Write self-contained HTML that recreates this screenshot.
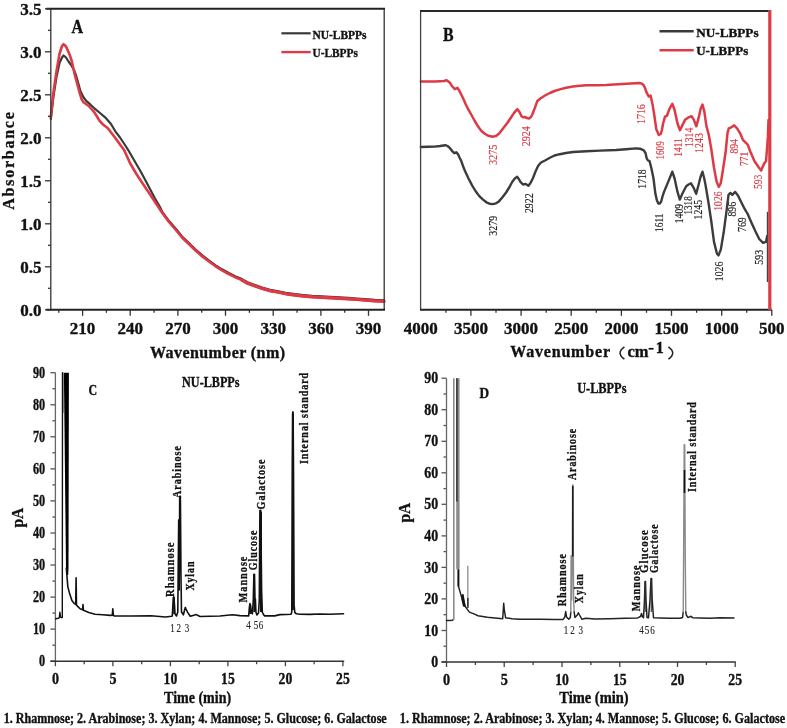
<!DOCTYPE html>
<html><head><meta charset="utf-8"><style>
html,body{margin:0;padding:0;background:#fff;}
body{width:787px;height:728px;overflow:hidden;}
svg{display:block;font-family:"Liberation Serif", serif;will-change:transform;}
</style></head><body>
<svg width="787" height="728" viewBox="0 0 787 728">
<rect width="787" height="728" fill="#fff"/>
<polyline points="162.7,212.6 169.0,221.1 175.9,229.1 182.0,236.6 189.1,243.4 195.5,249.6 202.3,255.5 209.0,260.6 215.5,265.4 222.0,269.4 228.7,273.1 235.0,276.3 241.9,279.2 248.0,282.6 255.0,285.1 262.0,287.6 270.0,289.9 277.0,291.1 285.6,292.9 295.0,294.3 303.4,295.2 312.0,296.0 321.2,296.5 330.0,297.0 339.0,297.4 348.0,298.0 356.8,298.6 365.0,299.3 374.6,300.0 384.0,300.4" fill="none" stroke="#4a2a2e" stroke-width="2.4" stroke-linejoin="round" stroke-linecap="round"/>
<polyline points="50.8,119.0 53.5,96.0 56.5,77.0 59.5,63.0 62.0,57.5 63.6,55.5 66.0,57.5 68.5,61.5 71.4,65.4 74.0,70.0 76.3,76.2 78.5,84.0 80.4,91.0 83.0,96.5 86.2,100.9 90.0,104.2 94.4,108.3 100.0,113.0 106.0,118.2 111.0,124.0 115.9,132.2 120.0,137.5 124.0,143.5 128.2,150.0 134.0,160.0 140.8,171.8 145.0,179.5 149.6,188.2 155.0,198.5 160.0,207.0 162.7,213.0" fill="none" stroke="#3a3a3a" stroke-width="2.2" stroke-linejoin="round" stroke-linecap="round"/>
<polyline points="50.8,117.4 53.5,92.0 56.5,71.2 59.5,54.0 62.0,46.0 63.6,44.2 66.0,46.5 69.7,54.7 72.0,62.0 74.7,74.5 77.0,83.0 79.6,92.6 81.5,99.0 83.7,102.5 86.0,104.0 88.7,105.8 91.5,109.0 94.4,112.4 97.0,116.5 99.4,120.7 103.0,124.5 107.6,128.0 111.5,133.0 115.9,138.8 120.0,144.5 124.1,150.0 130.0,163.0 136.4,174.0 143.0,184.0 149.6,193.7 156.0,203.5 162.7,213.5 169.0,222.0 175.9,230.0 182.0,237.5 189.1,244.3 195.5,250.5 202.3,256.4 209.0,261.5 215.5,266.3 222.0,270.3 228.7,274.0 235.0,277.2 241.9,280.1 248.0,283.5 255.0,286.0 262.0,288.5 270.0,290.8 277.0,292.0 285.6,293.8 295.0,295.2 303.4,296.1 312.0,296.9 321.2,297.4 330.0,297.9 339.0,298.3 348.0,298.9 356.8,299.5 365.0,300.2 374.6,300.9 384.0,301.3" fill="none" stroke="#dc3a45" stroke-width="2.6" stroke-linejoin="round" stroke-linecap="round"/>
<polyline points="241.9,280.1 248.0,283.5 255.0,286.0 262.0,288.5 270.0,290.8 277.0,292.0 285.6,293.8 295.0,295.2 303.4,296.1 312.0,296.9 321.2,297.4 330.0,297.9 339.0,298.3 348.0,298.9 356.8,299.5 365.0,300.2 374.6,300.9 384.0,301.3" fill="none" stroke="#dc3a45" stroke-width="3.2" stroke-linejoin="round" stroke-linecap="round"/>
<line x1="50.8" y1="8.8" x2="50.8" y2="310.3" stroke="#333" stroke-width="1.3"/>
<line x1="46.2" y1="8.8" x2="385.0" y2="8.8" stroke="#222" stroke-width="2.0"/>
<line x1="384.2" y1="8.8" x2="384.2" y2="309.8" stroke="#333" stroke-width="1.3"/>
<line x1="46.2" y1="309.8" x2="385.0" y2="309.8" stroke="#222" stroke-width="2.0"/>
<line x1="45.0" y1="309.8" x2="50.8" y2="309.8" stroke="#333" stroke-width="1.3"/>
<text x="41.6" y="315.6" font-size="17" font-weight="bold" text-anchor="end" fill="#111" stroke="#111" stroke-width="0.35">0.0</text>
<line x1="48.0" y1="288.3" x2="50.8" y2="288.3" stroke="#333" stroke-width="1.3"/>
<line x1="45.0" y1="266.8" x2="50.8" y2="266.8" stroke="#333" stroke-width="1.3"/>
<text x="41.6" y="272.6" font-size="17" font-weight="bold" text-anchor="end" fill="#111" stroke="#111" stroke-width="0.35">0.5</text>
<line x1="48.0" y1="245.3" x2="50.8" y2="245.3" stroke="#333" stroke-width="1.3"/>
<line x1="45.0" y1="223.8" x2="50.8" y2="223.8" stroke="#333" stroke-width="1.3"/>
<text x="41.6" y="229.6" font-size="17" font-weight="bold" text-anchor="end" fill="#111" stroke="#111" stroke-width="0.35">1.0</text>
<line x1="48.0" y1="202.3" x2="50.8" y2="202.3" stroke="#333" stroke-width="1.3"/>
<line x1="45.0" y1="180.8" x2="50.8" y2="180.8" stroke="#333" stroke-width="1.3"/>
<text x="41.6" y="186.6" font-size="17" font-weight="bold" text-anchor="end" fill="#111" stroke="#111" stroke-width="0.35">1.5</text>
<line x1="48.0" y1="159.3" x2="50.8" y2="159.3" stroke="#333" stroke-width="1.3"/>
<line x1="45.0" y1="137.8" x2="50.8" y2="137.8" stroke="#333" stroke-width="1.3"/>
<text x="41.6" y="143.6" font-size="17" font-weight="bold" text-anchor="end" fill="#111" stroke="#111" stroke-width="0.35">2.0</text>
<line x1="48.0" y1="116.3" x2="50.8" y2="116.3" stroke="#333" stroke-width="1.3"/>
<line x1="45.0" y1="94.8" x2="50.8" y2="94.8" stroke="#333" stroke-width="1.3"/>
<text x="41.6" y="100.6" font-size="17" font-weight="bold" text-anchor="end" fill="#111" stroke="#111" stroke-width="0.35">2.5</text>
<line x1="48.0" y1="73.3" x2="50.8" y2="73.3" stroke="#333" stroke-width="1.3"/>
<line x1="45.0" y1="51.8" x2="50.8" y2="51.8" stroke="#333" stroke-width="1.3"/>
<text x="41.6" y="57.6" font-size="17" font-weight="bold" text-anchor="end" fill="#111" stroke="#111" stroke-width="0.35">3.0</text>
<line x1="48.0" y1="30.3" x2="50.8" y2="30.3" stroke="#333" stroke-width="1.3"/>
<line x1="45.0" y1="8.8" x2="50.8" y2="8.8" stroke="#333" stroke-width="1.3"/>
<text x="41.6" y="14.6" font-size="17" font-weight="bold" text-anchor="end" fill="#111" stroke="#111" stroke-width="0.35">3.5</text>
<line x1="58.8" y1="309.8" x2="58.8" y2="312.8" stroke="#333" stroke-width="1.3"/>
<line x1="82.6" y1="309.8" x2="82.6" y2="315.8" stroke="#333" stroke-width="1.3"/>
<text x="82.6" y="334.2" font-size="17" font-weight="bold" text-anchor="middle" fill="#111" stroke="#111" stroke-width="0.35">210</text>
<line x1="106.4" y1="309.8" x2="106.4" y2="312.8" stroke="#333" stroke-width="1.3"/>
<line x1="130.2" y1="309.8" x2="130.2" y2="315.8" stroke="#333" stroke-width="1.3"/>
<text x="130.2" y="334.2" font-size="17" font-weight="bold" text-anchor="middle" fill="#111" stroke="#111" stroke-width="0.35">240</text>
<line x1="154.1" y1="309.8" x2="154.1" y2="312.8" stroke="#333" stroke-width="1.3"/>
<line x1="177.9" y1="309.8" x2="177.9" y2="315.8" stroke="#333" stroke-width="1.3"/>
<text x="177.9" y="334.2" font-size="17" font-weight="bold" text-anchor="middle" fill="#111" stroke="#111" stroke-width="0.35">270</text>
<line x1="201.7" y1="309.8" x2="201.7" y2="312.8" stroke="#333" stroke-width="1.3"/>
<line x1="225.5" y1="309.8" x2="225.5" y2="315.8" stroke="#333" stroke-width="1.3"/>
<text x="225.5" y="334.2" font-size="17" font-weight="bold" text-anchor="middle" fill="#111" stroke="#111" stroke-width="0.35">300</text>
<line x1="249.4" y1="309.8" x2="249.4" y2="312.8" stroke="#333" stroke-width="1.3"/>
<line x1="273.2" y1="309.8" x2="273.2" y2="315.8" stroke="#333" stroke-width="1.3"/>
<text x="273.2" y="334.2" font-size="17" font-weight="bold" text-anchor="middle" fill="#111" stroke="#111" stroke-width="0.35">330</text>
<line x1="297.0" y1="309.8" x2="297.0" y2="312.8" stroke="#333" stroke-width="1.3"/>
<line x1="320.9" y1="309.8" x2="320.9" y2="315.8" stroke="#333" stroke-width="1.3"/>
<text x="320.9" y="334.2" font-size="17" font-weight="bold" text-anchor="middle" fill="#111" stroke="#111" stroke-width="0.35">360</text>
<line x1="344.7" y1="309.8" x2="344.7" y2="312.8" stroke="#333" stroke-width="1.3"/>
<line x1="368.5" y1="309.8" x2="368.5" y2="315.8" stroke="#333" stroke-width="1.3"/>
<text x="368.5" y="334.2" font-size="17" font-weight="bold" text-anchor="middle" fill="#111" stroke="#111" stroke-width="0.35">390</text>
<text x="77.4" y="32.7" font-size="19" font-weight="bold" text-anchor="middle" fill="#111" stroke="#111" stroke-width="0.35" textLength="11.6" lengthAdjust="spacingAndGlyphs">A</text>
<line x1="281.4" y1="33.3" x2="310.7" y2="33.3" stroke="#3a3a3a" stroke-width="2.2"/>
<line x1="281.4" y1="52.1" x2="310.7" y2="52.1" stroke="#dc3a45" stroke-width="2.4"/>
<text x="312.5" y="38.8" font-size="12.5" font-weight="bold" text-anchor="start" fill="#111" stroke="#111" stroke-width="0.35" textLength="54" lengthAdjust="spacingAndGlyphs">NU-LBPPs</text>
<text x="312.5" y="56.6" font-size="12.5" font-weight="bold" text-anchor="start" fill="#111" stroke="#111" stroke-width="0.35" textLength="45.4" lengthAdjust="spacingAndGlyphs">U-LBPPs</text>
<text x="217.5" y="357.9" font-size="16" font-weight="bold" text-anchor="middle" fill="#111" stroke="#111" stroke-width="0.35" textLength="135" lengthAdjust="spacing">Wavenumber (nm)</text>
<text transform="translate(14.4,161.0) rotate(-90)" x="0" y="0" font-size="16" font-weight="bold" text-anchor="middle" fill="#111" stroke="#111" stroke-width="0.3" textLength="97.5" lengthAdjust="spacing">Absorbance</text>
<polyline points="420.8,147.0 428.0,146.8 434.8,146.6 440.0,146.0 445.4,145.2 447.5,146.0 449.8,147.9 452.0,150.8 454.3,153.2 456.3,152.3 457.9,154.1 459.5,157.5 461.4,161.3 463.0,166.0 465.0,171.1 468.5,178.5 472.1,185.4 475.5,191.0 479.3,196.1 483.0,199.6 486.4,202.3 489.5,203.7 492.7,204.1 496.0,203.3 498.9,201.4 502.5,197.2 506.1,192.5 509.5,187.0 512.3,181.8 514.8,178.5 517.1,176.8 518.8,179.0 520.4,181.8 523.0,184.5 525.7,183.9 528.4,185.7 530.5,183.0 532.9,178.2 535.5,171.5 538.2,165.7 541.0,162.5 545.0,160.5 549.9,157.8 554.5,155.5 559.8,154.2 566.0,153.0 573.0,152.0 586.3,151.2 600.0,150.6 616.0,150.0 626.0,149.3 635.8,148.4 640.0,148.7 643.8,150.4 645.5,153.0 646.7,158.3 648.0,160.5 649.6,161.2 651.5,168.8 653.5,178.5 655.4,193.8 656.8,200.0 658.3,203.5 659.8,203.5 661.2,201.5 662.5,196.5 664.0,191.9 666.0,187.1 668.8,180.4 672.3,171.7 674.6,178.5 677.5,191.9 679.8,199.6 682.3,193.8 686.2,186.2 688.5,184.5 691.0,183.3 693.8,188.1 696.2,193.8 698.7,184.2 700.5,177.0 702.5,171.7 704.0,177.5 705.4,184.2 708.3,201.5 711.2,220.8 714.0,241.9 716.9,253.5 718.5,255.4 720.8,249.6 723.7,232.3 726.5,211.2 728.5,194.8 730.4,192.9 732.3,194.8 735.2,191.9 738.1,195.8 741.9,203.5 744.8,209.2 747.7,214.0 751.5,222.7 755.4,231.3 759.2,239.0 763.1,242.9 766.0,241.9 767.2,236.0" fill="none" stroke="#3c3c3c" stroke-width="2.4" stroke-linejoin="round" stroke-linecap="round"/>
<line x1="767.6" y1="211.8" x2="767.6" y2="282.1" stroke="#444" stroke-width="1.6"/>
<polyline points="420.8,81.5 428.0,81.6 434.8,81.5 440.0,81.2 444.0,81.0 446.6,80.2 448.0,81.2 449.9,82.7 451.8,85.9 454.9,89.1 457.5,87.8 459.2,90.5 460.7,93.5 462.6,97.3 464.2,100.8 465.7,104.3 468.3,109.4 471.2,114.5 474.5,120.5 477.8,126.1 481.0,130.5 484.4,133.5 488.5,135.8 492.6,136.8 496.0,136.0 499.2,133.5 503.0,128.5 507.5,122.8 511.0,117.5 514.1,112.9 517.4,109.2 519.5,112.0 521.5,116.2 523.0,117.2 524.8,117.0 527.0,118.0 529.0,118.6 531.0,117.0 532.3,114.5 535.0,107.5 537.2,101.3 540.0,98.8 545.0,95.5 549.9,93.0 554.5,91.0 559.8,89.4 566.0,87.8 573.0,86.4 580.0,85.7 586.3,85.3 596.0,85.2 606.1,85.1 614.0,84.6 622.6,84.0 631.0,83.5 639.1,83.1 641.5,83.5 643.5,85.0 645.0,88.0 646.7,92.7 648.7,96.5 650.6,95.6 652.5,104.2 654.4,115.8 656.3,129.2 658.8,135.0 660.8,134.0 662.0,129.5 663.1,123.5 665.0,116.7 666.9,115.8 669.8,108.1 672.3,103.8 674.6,110.0 677.5,123.5 680.0,130.2 682.3,125.4 685.2,119.6 688.1,117.7 691.5,116.2 693.8,119.6 696.3,126.3 698.7,117.7 700.6,109.0 702.5,104.6 704.4,111.9 706.3,125.4 708.8,135.0 711.2,148.5 714.0,167.7 716.5,181.2 718.8,186.9 720.8,183.1 722.7,171.5 725.6,152.3 727.5,133.1 728.8,128.3 731.3,127.3 734.2,125.4 737.1,128.3 740.0,133.1 742.9,139.8 745.4,142.3 747.7,144.6 750.6,152.3 754.4,161.0 758.3,166.7 761.2,170.6 764.0,163.8 766.0,161.0 766.9,150.4 767.9,136.9 768.5,120.0" fill="none" stroke="#dc3a45" stroke-width="2.5" stroke-linejoin="round" stroke-linecap="round"/>
<line x1="420.6" y1="11.0" x2="420.6" y2="309.8" stroke="#444" stroke-width="1.3"/>
<line x1="420.0" y1="11.0" x2="769.0" y2="11.0" stroke="#2a2a2a" stroke-width="2.0"/>
<line x1="420.0" y1="309.8" x2="771.8" y2="309.8" stroke="#222" stroke-width="2.0"/>
<text x="420.8" y="333.8" font-size="17" font-weight="bold" text-anchor="middle" fill="#111" stroke="#111" stroke-width="0.35">4000</text>
<line x1="445.9" y1="309.8" x2="445.9" y2="312.8" stroke="#333" stroke-width="1.3"/>
<line x1="470.9" y1="309.8" x2="470.9" y2="315.8" stroke="#333" stroke-width="1.3"/>
<text x="470.9" y="333.8" font-size="17" font-weight="bold" text-anchor="middle" fill="#111" stroke="#111" stroke-width="0.35">3500</text>
<line x1="496.0" y1="309.8" x2="496.0" y2="312.8" stroke="#333" stroke-width="1.3"/>
<line x1="521.1" y1="309.8" x2="521.1" y2="315.8" stroke="#333" stroke-width="1.3"/>
<text x="521.1" y="333.8" font-size="17" font-weight="bold" text-anchor="middle" fill="#111" stroke="#111" stroke-width="0.35">3000</text>
<line x1="546.2" y1="309.8" x2="546.2" y2="312.8" stroke="#333" stroke-width="1.3"/>
<line x1="571.2" y1="309.8" x2="571.2" y2="315.8" stroke="#333" stroke-width="1.3"/>
<text x="571.2" y="333.8" font-size="17" font-weight="bold" text-anchor="middle" fill="#111" stroke="#111" stroke-width="0.35">2500</text>
<line x1="596.3" y1="309.8" x2="596.3" y2="312.8" stroke="#333" stroke-width="1.3"/>
<line x1="621.4" y1="309.8" x2="621.4" y2="315.8" stroke="#333" stroke-width="1.3"/>
<text x="621.4" y="333.8" font-size="17" font-weight="bold" text-anchor="middle" fill="#111" stroke="#111" stroke-width="0.35">2000</text>
<line x1="646.5" y1="309.8" x2="646.5" y2="312.8" stroke="#333" stroke-width="1.3"/>
<line x1="671.5" y1="309.8" x2="671.5" y2="315.8" stroke="#333" stroke-width="1.3"/>
<text x="671.5" y="333.8" font-size="17" font-weight="bold" text-anchor="middle" fill="#111" stroke="#111" stroke-width="0.35">1500</text>
<line x1="696.6" y1="309.8" x2="696.6" y2="312.8" stroke="#333" stroke-width="1.3"/>
<line x1="721.7" y1="309.8" x2="721.7" y2="315.8" stroke="#333" stroke-width="1.3"/>
<text x="721.7" y="333.8" font-size="17" font-weight="bold" text-anchor="middle" fill="#111" stroke="#111" stroke-width="0.35">1000</text>
<line x1="746.7" y1="309.8" x2="746.7" y2="312.8" stroke="#333" stroke-width="1.3"/>
<line x1="771.8" y1="309.8" x2="771.8" y2="315.8" stroke="#333" stroke-width="1.3"/>
<text x="771.8" y="333.8" font-size="17" font-weight="bold" text-anchor="middle" fill="#111" stroke="#111" stroke-width="0.35">500</text>
<line x1="769.8" y1="10.0" x2="769.8" y2="310.0" stroke="#dc3a45" stroke-width="3.2"/>
<text x="448.4" y="40.5" font-size="19" font-weight="bold" text-anchor="middle" fill="#111" stroke="#111" stroke-width="0.35" textLength="10.6" lengthAdjust="spacingAndGlyphs">B</text>
<line x1="659.5" y1="31.2" x2="693.7" y2="31.2" stroke="#3a3a3a" stroke-width="2.4"/>
<line x1="659.5" y1="50.2" x2="693.7" y2="50.2" stroke="#dc3a45" stroke-width="2.4"/>
<text x="696.2" y="36.5" font-size="13.5" font-weight="bold" text-anchor="start" fill="#111" stroke="#111" stroke-width="0.35" textLength="62.4" lengthAdjust="spacingAndGlyphs">NU-LBPPs</text>
<text x="696.2" y="54.6" font-size="13.5" font-weight="bold" text-anchor="start" fill="#111" stroke="#111" stroke-width="0.35" textLength="52" lengthAdjust="spacingAndGlyphs">U-LBPPs</text>
<text x="510.2" y="357.4" font-size="16" font-weight="bold" text-anchor="start" fill="#111" stroke="#111" stroke-width="0.35" textLength="99.8" lengthAdjust="spacing">Wavenumber</text>
<path d="M624.4,346.8 Q615.8,353 624.4,359.2" fill="none" stroke="#222" stroke-width="1.5"/>
<path d="M668.4,346.8 Q677.0,353 668.4,359.2" fill="none" stroke="#222" stroke-width="1.5"/>
<text x="627.5" y="357.4" font-size="16" font-weight="bold" text-anchor="start" fill="#111" stroke="#111" stroke-width="0.35" textLength="21" lengthAdjust="spacingAndGlyphs">cm</text>
<rect x="648.6" y="347.9" width="5.0" height="1.7" fill="#111"/>
<text x="659.8" y="353.0" font-size="16" font-weight="bold" text-anchor="middle" fill="#111" stroke="#111" stroke-width="0.35">1</text>
<text transform="translate(496.5,154.8) rotate(-90)" x="0" y="0" font-size="12" font-weight="normal" text-anchor="middle" fill="#dc3a45" stroke="#dc3a45" stroke-width="0.15" textLength="20.4" lengthAdjust="spacingAndGlyphs">3275</text>
<text transform="translate(529.7,136.3) rotate(-90)" x="0" y="0" font-size="12" font-weight="normal" text-anchor="middle" fill="#dc3a45" stroke="#dc3a45" stroke-width="0.15" textLength="19.9" lengthAdjust="spacingAndGlyphs">2924</text>
<text transform="translate(645.1,114.1) rotate(-90)" x="0" y="0" font-size="12" font-weight="normal" text-anchor="middle" fill="#dc3a45" stroke="#dc3a45" stroke-width="0.15" textLength="19.8" lengthAdjust="spacingAndGlyphs">1716</text>
<text transform="translate(664.2,150.4) rotate(-90)" x="0" y="0" font-size="12" font-weight="normal" text-anchor="middle" fill="#dc3a45" stroke="#dc3a45" stroke-width="0.15" textLength="18.4" lengthAdjust="spacingAndGlyphs">1609</text>
<text transform="translate(681.5,147.5) rotate(-90)" x="0" y="0" font-size="12" font-weight="normal" text-anchor="middle" fill="#dc3a45" stroke="#dc3a45" stroke-width="0.15" textLength="18.4" lengthAdjust="spacingAndGlyphs">1411</text>
<text transform="translate(693.0,137.4) rotate(-90)" x="0" y="0" font-size="12" font-weight="normal" text-anchor="middle" fill="#dc3a45" stroke="#dc3a45" stroke-width="0.15" textLength="19.4" lengthAdjust="spacingAndGlyphs">1314</text>
<text transform="translate(702.7,143.0) rotate(-90)" x="0" y="0" font-size="12" font-weight="normal" text-anchor="middle" fill="#dc3a45" stroke="#dc3a45" stroke-width="0.15" textLength="19.8" lengthAdjust="spacingAndGlyphs">1243</text>
<text transform="translate(721.9,201.1) rotate(-90)" x="0" y="0" font-size="12" font-weight="normal" text-anchor="middle" fill="#dc3a45" stroke="#dc3a45" stroke-width="0.15" textLength="19.4" lengthAdjust="spacingAndGlyphs">1026</text>
<text transform="translate(738.2,146.3) rotate(-90)" x="0" y="0" font-size="12" font-weight="normal" text-anchor="middle" fill="#dc3a45" stroke="#dc3a45" stroke-width="0.15" textLength="14.4" lengthAdjust="spacingAndGlyphs">894</text>
<text transform="translate(747.8,158.8) rotate(-90)" x="0" y="0" font-size="12" font-weight="normal" text-anchor="middle" fill="#dc3a45" stroke="#dc3a45" stroke-width="0.15" textLength="14.3" lengthAdjust="spacingAndGlyphs">771</text>
<text transform="translate(762.3,181.8) rotate(-90)" x="0" y="0" font-size="12" font-weight="normal" text-anchor="middle" fill="#dc3a45" stroke="#dc3a45" stroke-width="0.15" textLength="14.2" lengthAdjust="spacingAndGlyphs">593</text>
<text transform="translate(497.4,225.8) rotate(-90)" x="0" y="0" font-size="12" font-weight="normal" text-anchor="middle" fill="#222" stroke="#222" stroke-width="0.15" textLength="19.8" lengthAdjust="spacingAndGlyphs">3279</text>
<text transform="translate(533.1,203.2) rotate(-90)" x="0" y="0" font-size="12" font-weight="normal" text-anchor="middle" fill="#222" stroke="#222" stroke-width="0.15" textLength="19.8" lengthAdjust="spacingAndGlyphs">2922</text>
<text transform="translate(645.7,179.0) rotate(-90)" x="0" y="0" font-size="12" font-weight="normal" text-anchor="middle" fill="#222" stroke="#222" stroke-width="0.15" textLength="19.4" lengthAdjust="spacingAndGlyphs">1718</text>
<text transform="translate(663.2,222.7) rotate(-90)" x="0" y="0" font-size="12" font-weight="normal" text-anchor="middle" fill="#222" stroke="#222" stroke-width="0.15" textLength="18.4" lengthAdjust="spacingAndGlyphs">1611</text>
<text transform="translate(682.5,213.6) rotate(-90)" x="0" y="0" font-size="12" font-weight="normal" text-anchor="middle" fill="#222" stroke="#222" stroke-width="0.15" textLength="19.4" lengthAdjust="spacingAndGlyphs">1409</text>
<text transform="translate(691.7,205.4) rotate(-90)" x="0" y="0" font-size="12" font-weight="normal" text-anchor="middle" fill="#222" stroke="#222" stroke-width="0.15" textLength="18.4" lengthAdjust="spacingAndGlyphs">1318</text>
<text transform="translate(701.7,209.7) rotate(-90)" x="0" y="0" font-size="12" font-weight="normal" text-anchor="middle" fill="#222" stroke="#222" stroke-width="0.15" textLength="19.4" lengthAdjust="spacingAndGlyphs">1245</text>
<text transform="translate(722.5,271.4) rotate(-90)" x="0" y="0" font-size="12" font-weight="normal" text-anchor="middle" fill="#222" stroke="#222" stroke-width="0.15" textLength="19.5" lengthAdjust="spacingAndGlyphs">1026</text>
<text transform="translate(735.9,209.2) rotate(-90)" x="0" y="0" font-size="12" font-weight="normal" text-anchor="middle" fill="#222" stroke="#222" stroke-width="0.15" textLength="14.8" lengthAdjust="spacingAndGlyphs">896</text>
<text transform="translate(745.9,224.6) rotate(-90)" x="0" y="0" font-size="12" font-weight="normal" text-anchor="middle" fill="#222" stroke="#222" stroke-width="0.15" textLength="14.8" lengthAdjust="spacingAndGlyphs">769</text>
<text transform="translate(763.2,257.3) rotate(-90)" x="0" y="0" font-size="12" font-weight="normal" text-anchor="middle" fill="#222" stroke="#222" stroke-width="0.15" textLength="14.8" lengthAdjust="spacingAndGlyphs">593</text>
<line x1="50.4" y1="661.2" x2="55.4" y2="661.2" stroke="#555" stroke-width="1.3"/>
<text x="45.2" y="666.1" font-size="16" font-weight="bold" text-anchor="end" fill="#111" stroke="#111" stroke-width="0.35" textLength="6.1" lengthAdjust="spacingAndGlyphs">0</text>
<line x1="52.4" y1="645.2" x2="55.4" y2="645.2" stroke="#555" stroke-width="1.3"/>
<line x1="50.4" y1="629.1" x2="55.4" y2="629.1" stroke="#555" stroke-width="1.3"/>
<text x="45.2" y="634.0" font-size="16" font-weight="bold" text-anchor="end" fill="#111" stroke="#111" stroke-width="0.35" textLength="12.2" lengthAdjust="spacingAndGlyphs">10</text>
<line x1="52.4" y1="613.1" x2="55.4" y2="613.1" stroke="#555" stroke-width="1.3"/>
<line x1="50.4" y1="597.1" x2="55.4" y2="597.1" stroke="#555" stroke-width="1.3"/>
<text x="45.2" y="602.0" font-size="16" font-weight="bold" text-anchor="end" fill="#111" stroke="#111" stroke-width="0.35" textLength="12.2" lengthAdjust="spacingAndGlyphs">20</text>
<line x1="52.4" y1="581.1" x2="55.4" y2="581.1" stroke="#555" stroke-width="1.3"/>
<line x1="50.4" y1="565.0" x2="55.4" y2="565.0" stroke="#555" stroke-width="1.3"/>
<text x="45.2" y="569.9" font-size="16" font-weight="bold" text-anchor="end" fill="#111" stroke="#111" stroke-width="0.35" textLength="12.2" lengthAdjust="spacingAndGlyphs">30</text>
<line x1="52.4" y1="549.0" x2="55.4" y2="549.0" stroke="#555" stroke-width="1.3"/>
<line x1="50.4" y1="533.0" x2="55.4" y2="533.0" stroke="#555" stroke-width="1.3"/>
<text x="45.2" y="537.9" font-size="16" font-weight="bold" text-anchor="end" fill="#111" stroke="#111" stroke-width="0.35" textLength="12.2" lengthAdjust="spacingAndGlyphs">40</text>
<line x1="52.4" y1="517.0" x2="55.4" y2="517.0" stroke="#555" stroke-width="1.3"/>
<line x1="50.4" y1="500.9" x2="55.4" y2="500.9" stroke="#555" stroke-width="1.3"/>
<text x="45.2" y="505.8" font-size="16" font-weight="bold" text-anchor="end" fill="#111" stroke="#111" stroke-width="0.35" textLength="12.2" lengthAdjust="spacingAndGlyphs">50</text>
<line x1="52.4" y1="484.9" x2="55.4" y2="484.9" stroke="#555" stroke-width="1.3"/>
<line x1="50.4" y1="468.9" x2="55.4" y2="468.9" stroke="#555" stroke-width="1.3"/>
<text x="45.2" y="473.8" font-size="16" font-weight="bold" text-anchor="end" fill="#111" stroke="#111" stroke-width="0.35" textLength="12.2" lengthAdjust="spacingAndGlyphs">60</text>
<line x1="52.4" y1="452.8" x2="55.4" y2="452.8" stroke="#555" stroke-width="1.3"/>
<line x1="50.4" y1="436.8" x2="55.4" y2="436.8" stroke="#555" stroke-width="1.3"/>
<text x="45.2" y="441.7" font-size="16" font-weight="bold" text-anchor="end" fill="#111" stroke="#111" stroke-width="0.35" textLength="12.2" lengthAdjust="spacingAndGlyphs">70</text>
<line x1="52.4" y1="420.8" x2="55.4" y2="420.8" stroke="#555" stroke-width="1.3"/>
<line x1="50.4" y1="404.8" x2="55.4" y2="404.8" stroke="#555" stroke-width="1.3"/>
<text x="45.2" y="409.7" font-size="16" font-weight="bold" text-anchor="end" fill="#111" stroke="#111" stroke-width="0.35" textLength="12.2" lengthAdjust="spacingAndGlyphs">80</text>
<line x1="52.4" y1="388.7" x2="55.4" y2="388.7" stroke="#555" stroke-width="1.3"/>
<line x1="50.4" y1="372.7" x2="55.4" y2="372.7" stroke="#555" stroke-width="1.3"/>
<text x="45.2" y="377.6" font-size="16" font-weight="bold" text-anchor="end" fill="#111" stroke="#111" stroke-width="0.35" textLength="12.2" lengthAdjust="spacingAndGlyphs">90</text>
<line x1="55.4" y1="661.2" x2="55.4" y2="666.2" stroke="#444" stroke-width="1.3"/>
<text x="55.4" y="684.2" font-size="16" font-weight="bold" text-anchor="middle" fill="#111" stroke="#111" stroke-width="0.35" textLength="7.0" lengthAdjust="spacingAndGlyphs">0</text>
<line x1="84.2" y1="661.2" x2="84.2" y2="664.2" stroke="#444" stroke-width="1.3"/>
<line x1="112.9" y1="661.2" x2="112.9" y2="666.2" stroke="#444" stroke-width="1.3"/>
<text x="112.9" y="684.2" font-size="16" font-weight="bold" text-anchor="middle" fill="#111" stroke="#111" stroke-width="0.35" textLength="7.0" lengthAdjust="spacingAndGlyphs">5</text>
<line x1="141.7" y1="661.2" x2="141.7" y2="664.2" stroke="#444" stroke-width="1.3"/>
<line x1="170.4" y1="661.2" x2="170.4" y2="666.2" stroke="#444" stroke-width="1.3"/>
<text x="170.4" y="684.2" font-size="16" font-weight="bold" text-anchor="middle" fill="#111" stroke="#111" stroke-width="0.35" textLength="13.6" lengthAdjust="spacingAndGlyphs">10</text>
<line x1="199.2" y1="661.2" x2="199.2" y2="664.2" stroke="#444" stroke-width="1.3"/>
<line x1="227.9" y1="661.2" x2="227.9" y2="666.2" stroke="#444" stroke-width="1.3"/>
<text x="227.9" y="684.2" font-size="16" font-weight="bold" text-anchor="middle" fill="#111" stroke="#111" stroke-width="0.35" textLength="13.6" lengthAdjust="spacingAndGlyphs">15</text>
<line x1="256.6" y1="661.2" x2="256.6" y2="664.2" stroke="#444" stroke-width="1.3"/>
<line x1="285.4" y1="661.2" x2="285.4" y2="666.2" stroke="#444" stroke-width="1.3"/>
<text x="285.4" y="684.2" font-size="16" font-weight="bold" text-anchor="middle" fill="#111" stroke="#111" stroke-width="0.35" textLength="13.6" lengthAdjust="spacingAndGlyphs">20</text>
<line x1="314.1" y1="661.2" x2="314.1" y2="664.2" stroke="#444" stroke-width="1.3"/>
<line x1="342.9" y1="661.2" x2="342.9" y2="666.2" stroke="#444" stroke-width="1.3"/>
<text x="342.9" y="684.2" font-size="16" font-weight="bold" text-anchor="middle" fill="#111" stroke="#111" stroke-width="0.35" textLength="13.6" lengthAdjust="spacingAndGlyphs">25</text>
<line x1="55.4" y1="372.7" x2="55.4" y2="661.2" stroke="#666" stroke-width="1.3"/>
<line x1="50.4" y1="661.2" x2="344.2" y2="661.2" stroke="#333" stroke-width="1.6"/>
<text x="92.9" y="394.6" font-size="14" font-weight="bold" text-anchor="middle" fill="#111" stroke="#111" stroke-width="0.35" textLength="8.6" lengthAdjust="spacingAndGlyphs">C</text>
<text x="210.8" y="387.1" font-size="14.5" font-weight="bold" text-anchor="middle" fill="#111" stroke="#111" stroke-width="0.35" textLength="57.5" lengthAdjust="spacingAndGlyphs">NU-LBPPs</text>
<text transform="translate(23.4,517.7) rotate(-90)" x="0" y="0" font-size="16" font-weight="bold" text-anchor="middle" fill="#111" stroke="#111" stroke-width="0.3" textLength="19.8" lengthAdjust="spacingAndGlyphs">pA</text>
<text x="197.6" y="703.3" font-size="16" font-weight="bold" text-anchor="middle" fill="#111" stroke="#111" stroke-width="0.35" textLength="67" lengthAdjust="spacingAndGlyphs">Time (min)</text>
<text x="195.2" y="722.7" font-size="14" font-weight="bold" text-anchor="middle" fill="#111" stroke="#111" stroke-width="0.35" textLength="383" lengthAdjust="spacingAndGlyphs">1. Rhamnose; 2. Arabinose; 3. Xylan; 4. Mannose; 5. Glucose; 6. Galactose</text>
<line x1="441.5" y1="662.0" x2="446.5" y2="662.0" stroke="#555" stroke-width="1.3"/>
<text x="438.2" y="667.1" font-size="16.5" font-weight="bold" text-anchor="end" fill="#111" stroke="#111" stroke-width="0.35" textLength="6.9" lengthAdjust="spacingAndGlyphs">0</text>
<line x1="443.5" y1="646.2" x2="446.5" y2="646.2" stroke="#555" stroke-width="1.3"/>
<line x1="441.5" y1="630.5" x2="446.5" y2="630.5" stroke="#555" stroke-width="1.3"/>
<text x="438.2" y="635.6" font-size="16.5" font-weight="bold" text-anchor="end" fill="#111" stroke="#111" stroke-width="0.35" textLength="13.9" lengthAdjust="spacingAndGlyphs">10</text>
<line x1="443.5" y1="614.7" x2="446.5" y2="614.7" stroke="#555" stroke-width="1.3"/>
<line x1="441.5" y1="598.9" x2="446.5" y2="598.9" stroke="#555" stroke-width="1.3"/>
<text x="438.2" y="604.0" font-size="16.5" font-weight="bold" text-anchor="end" fill="#111" stroke="#111" stroke-width="0.35" textLength="13.9" lengthAdjust="spacingAndGlyphs">20</text>
<line x1="443.5" y1="583.2" x2="446.5" y2="583.2" stroke="#555" stroke-width="1.3"/>
<line x1="441.5" y1="567.4" x2="446.5" y2="567.4" stroke="#555" stroke-width="1.3"/>
<text x="438.2" y="572.5" font-size="16.5" font-weight="bold" text-anchor="end" fill="#111" stroke="#111" stroke-width="0.35" textLength="13.9" lengthAdjust="spacingAndGlyphs">30</text>
<line x1="443.5" y1="551.6" x2="446.5" y2="551.6" stroke="#555" stroke-width="1.3"/>
<line x1="441.5" y1="535.9" x2="446.5" y2="535.9" stroke="#555" stroke-width="1.3"/>
<text x="438.2" y="541.0" font-size="16.5" font-weight="bold" text-anchor="end" fill="#111" stroke="#111" stroke-width="0.35" textLength="13.9" lengthAdjust="spacingAndGlyphs">40</text>
<line x1="443.5" y1="520.1" x2="446.5" y2="520.1" stroke="#555" stroke-width="1.3"/>
<line x1="441.5" y1="504.3" x2="446.5" y2="504.3" stroke="#555" stroke-width="1.3"/>
<text x="438.2" y="509.4" font-size="16.5" font-weight="bold" text-anchor="end" fill="#111" stroke="#111" stroke-width="0.35" textLength="13.9" lengthAdjust="spacingAndGlyphs">50</text>
<line x1="443.5" y1="488.6" x2="446.5" y2="488.6" stroke="#555" stroke-width="1.3"/>
<line x1="441.5" y1="472.8" x2="446.5" y2="472.8" stroke="#555" stroke-width="1.3"/>
<text x="438.2" y="477.9" font-size="16.5" font-weight="bold" text-anchor="end" fill="#111" stroke="#111" stroke-width="0.35" textLength="13.9" lengthAdjust="spacingAndGlyphs">60</text>
<line x1="443.5" y1="457.0" x2="446.5" y2="457.0" stroke="#555" stroke-width="1.3"/>
<line x1="441.5" y1="441.3" x2="446.5" y2="441.3" stroke="#555" stroke-width="1.3"/>
<text x="438.2" y="446.4" font-size="16.5" font-weight="bold" text-anchor="end" fill="#111" stroke="#111" stroke-width="0.35" textLength="13.9" lengthAdjust="spacingAndGlyphs">70</text>
<line x1="443.5" y1="425.5" x2="446.5" y2="425.5" stroke="#555" stroke-width="1.3"/>
<line x1="441.5" y1="409.7" x2="446.5" y2="409.7" stroke="#555" stroke-width="1.3"/>
<text x="438.2" y="414.8" font-size="16.5" font-weight="bold" text-anchor="end" fill="#111" stroke="#111" stroke-width="0.35" textLength="13.9" lengthAdjust="spacingAndGlyphs">80</text>
<line x1="443.5" y1="394.0" x2="446.5" y2="394.0" stroke="#555" stroke-width="1.3"/>
<line x1="441.5" y1="378.2" x2="446.5" y2="378.2" stroke="#555" stroke-width="1.3"/>
<text x="438.2" y="383.3" font-size="16.5" font-weight="bold" text-anchor="end" fill="#111" stroke="#111" stroke-width="0.35" textLength="13.9" lengthAdjust="spacingAndGlyphs">90</text>
<line x1="446.5" y1="662.0" x2="446.5" y2="667.0" stroke="#444" stroke-width="1.3"/>
<text x="446.5" y="685.0" font-size="16" font-weight="bold" text-anchor="middle" fill="#111" stroke="#111" stroke-width="0.35" textLength="7.1" lengthAdjust="spacingAndGlyphs">0</text>
<line x1="475.4" y1="662.0" x2="475.4" y2="665.0" stroke="#444" stroke-width="1.3"/>
<line x1="504.2" y1="662.0" x2="504.2" y2="667.0" stroke="#444" stroke-width="1.3"/>
<text x="504.2" y="685.0" font-size="16" font-weight="bold" text-anchor="middle" fill="#111" stroke="#111" stroke-width="0.35" textLength="7.1" lengthAdjust="spacingAndGlyphs">5</text>
<line x1="533.1" y1="662.0" x2="533.1" y2="665.0" stroke="#444" stroke-width="1.3"/>
<line x1="562.0" y1="662.0" x2="562.0" y2="667.0" stroke="#444" stroke-width="1.3"/>
<text x="562.0" y="685.0" font-size="16" font-weight="bold" text-anchor="middle" fill="#111" stroke="#111" stroke-width="0.35" textLength="13.7" lengthAdjust="spacingAndGlyphs">10</text>
<line x1="590.9" y1="662.0" x2="590.9" y2="665.0" stroke="#444" stroke-width="1.3"/>
<line x1="619.8" y1="662.0" x2="619.8" y2="667.0" stroke="#444" stroke-width="1.3"/>
<text x="619.8" y="685.0" font-size="16" font-weight="bold" text-anchor="middle" fill="#111" stroke="#111" stroke-width="0.35" textLength="13.7" lengthAdjust="spacingAndGlyphs">15</text>
<line x1="648.6" y1="662.0" x2="648.6" y2="665.0" stroke="#444" stroke-width="1.3"/>
<line x1="677.5" y1="662.0" x2="677.5" y2="667.0" stroke="#444" stroke-width="1.3"/>
<text x="677.5" y="685.0" font-size="16" font-weight="bold" text-anchor="middle" fill="#111" stroke="#111" stroke-width="0.35" textLength="13.7" lengthAdjust="spacingAndGlyphs">20</text>
<line x1="706.4" y1="662.0" x2="706.4" y2="665.0" stroke="#444" stroke-width="1.3"/>
<line x1="735.2" y1="662.0" x2="735.2" y2="667.0" stroke="#444" stroke-width="1.3"/>
<text x="735.2" y="685.0" font-size="16" font-weight="bold" text-anchor="middle" fill="#111" stroke="#111" stroke-width="0.35" textLength="13.7" lengthAdjust="spacingAndGlyphs">25</text>
<line x1="446.5" y1="378.2" x2="446.5" y2="662.0" stroke="#666" stroke-width="1.3"/>
<line x1="441.5" y1="662.0" x2="735.8" y2="662.0" stroke="#333" stroke-width="1.6"/>
<text x="484.2" y="397.9" font-size="14" font-weight="bold" text-anchor="middle" fill="#111" stroke="#111" stroke-width="0.35" textLength="9.6" lengthAdjust="spacingAndGlyphs">D</text>
<text x="601.8" y="393.1" font-size="14.5" font-weight="bold" text-anchor="middle" fill="#111" stroke="#111" stroke-width="0.35" textLength="49.3" lengthAdjust="spacingAndGlyphs">U-LBPPs</text>
<text transform="translate(409.9,512.7) rotate(-90)" x="0" y="0" font-size="16" font-weight="bold" text-anchor="middle" fill="#111" stroke="#111" stroke-width="0.3" textLength="19.8" lengthAdjust="spacingAndGlyphs">pA</text>
<text x="594.0" y="702.8" font-size="16" font-weight="bold" text-anchor="middle" fill="#111" stroke="#111" stroke-width="0.35" textLength="69.4" lengthAdjust="spacingAndGlyphs">Time (min)</text>
<text x="592.5" y="722.7" font-size="14" font-weight="bold" text-anchor="middle" fill="#111" stroke="#111" stroke-width="0.35" textLength="385.3" lengthAdjust="spacingAndGlyphs">1. Rhamnose; 2. Arabinose; 3. Xylan; 4. Mannose; 5. Glucose; 6. Galactose</text>
<polyline points="55.7,618.8 57.0,618.5 58.5,618.2 59.3,617.6 59.9,612.3 60.5,617.2 61.4,617.6 62.3,617.5 62.5,372.7" fill="none" stroke="#111" stroke-width="1.4" stroke-linejoin="round" stroke-linecap="round" stroke-linecap="butt"/>
<polygon points="63.9,372.7 68.9,372.7 68.5,568 68.2,575 66.2,575 66,568" fill="#000"/>
<rect x="63" y="372.7" width="1" height="40" fill="#888"/>
<polyline points="66.3,568.0 66.7,572.7 67.8,586.6 69.6,593.6 71.9,600.6 74.2,603.6 75.7,604.4 76.1,577.9 76.5,605.2 77.2,605.9 80.1,608.8 82.6,609.8 83.0,604.5 83.4,610.2 84.2,610.6 88.8,612.5 95.0,614.3 102.7,614.7 110.3,615.4 112.3,615.2 112.8,608.7 113.4,615.6 114.4,616.0 130.7,616.0 151.0,615.8 165.5,617.0 171.5,616.2 172.3,615.9 172.9,605.0 173.3,597.5 173.9,597.0 174.5,605.0 175.0,614.0 176.5,615.9 177.8,612.0 178.7,520.0 179.2,590.0 179.7,496.4 180.3,496.4 180.9,570.0 181.5,612.0 183.4,614.8 184.6,610.0 185.3,607.4 186.0,609.0 187.5,612.1 190.2,616.2 193.0,615.5 196.3,614.6 200.0,616.5 210.0,616.2 220.0,616.0 232.3,614.8 240.0,615.6 248.7,615.9 249.3,608.0 249.9,603.5 250.6,606.0 251.3,612.0 252.4,613.8 253.3,600.0 253.9,574.3 254.5,574.3 255.0,600.0 255.4,599.0 255.9,612.0 256.9,615.0 258.5,613.0 259.3,600.0 259.9,510.5 260.8,510.5 261.6,590.0 262.3,612.0 263.5,614.6 264.7,615.9 274.6,615.9 280.0,614.6 286.0,614.5 291.0,614.3 291.8,612.0 292.3,470.0 292.7,412.1 293.1,412.1 293.5,470.0 294.1,605.0 294.8,612.5 296.5,613.8 300.0,614.2 310.0,614.4 320.0,614.0 330.0,614.3 343.5,613.8" fill="none" stroke="#111" stroke-width="1.6" stroke-linejoin="round" stroke-linecap="round"/>
<line x1="174.1" y1="597.5" x2="174.1" y2="614.0" stroke="#111" stroke-width="1.8"/>
<line x1="180.5" y1="500.0" x2="180.5" y2="570.0" stroke="#111" stroke-width="1.2"/>
<line x1="250.2" y1="604.0" x2="250.2" y2="614.0" stroke="#111" stroke-width="1.8"/>
<line x1="254.2" y1="575.0" x2="254.2" y2="612.0" stroke="#111" stroke-width="1.6"/>
<line x1="261.0" y1="512.0" x2="261.0" y2="612.0" stroke="#111" stroke-width="2.0"/>
<line x1="292.9" y1="414.0" x2="292.9" y2="610.0" stroke="#111" stroke-width="2.0"/>
<text transform="translate(174.3,569.2) rotate(-90)" x="0" y="0" font-size="12.5" font-weight="bold" text-anchor="middle" fill="#111" stroke="#111" stroke-width="0.3" letter-spacing="1.2" textLength="55.4" lengthAdjust="spacingAndGlyphs">Rhamnose</text>
<text transform="translate(181.0,471.5) rotate(-90)" x="0" y="0" font-size="12.5" font-weight="bold" text-anchor="middle" fill="#111" stroke="#111" stroke-width="0.3" letter-spacing="1.2" textLength="52.8" lengthAdjust="spacingAndGlyphs">Arabinose</text>
<text transform="translate(194.4,575.6) rotate(-90)" x="0" y="0" font-size="12.5" font-weight="bold" text-anchor="middle" fill="#111" stroke="#111" stroke-width="0.3" letter-spacing="1.2" textLength="30.0" lengthAdjust="spacingAndGlyphs">Xylan</text>
<text transform="translate(246.7,579.0) rotate(-90)" x="0" y="0" font-size="12.5" font-weight="bold" text-anchor="middle" fill="#111" stroke="#111" stroke-width="0.3" letter-spacing="1.2" textLength="46.8" lengthAdjust="spacingAndGlyphs">Mannose</text>
<text transform="translate(256.6,550.0) rotate(-90)" x="0" y="0" font-size="12.5" font-weight="bold" text-anchor="middle" fill="#111" stroke="#111" stroke-width="0.3" letter-spacing="1.2" textLength="40.6" lengthAdjust="spacingAndGlyphs">Glucose</text>
<text transform="translate(265.0,484.0) rotate(-90)" x="0" y="0" font-size="12.5" font-weight="bold" text-anchor="middle" fill="#111" stroke="#111" stroke-width="0.3" letter-spacing="1.2" textLength="50.9" lengthAdjust="spacingAndGlyphs">Galactose</text>
<text transform="translate(307.8,418.0) rotate(-90)" x="0" y="0" font-size="12.5" font-weight="bold" text-anchor="middle" fill="#111" stroke="#111" stroke-width="0.3" letter-spacing="1.2" textLength="92.2" lengthAdjust="spacingAndGlyphs">Internal standard</text>
<text x="172.6" y="631.6" font-size="12" font-weight="normal" text-anchor="middle" fill="#222" stroke="#222" stroke-width="0.15" textLength="4.5" lengthAdjust="spacingAndGlyphs">1</text>
<text x="178.7" y="631.6" font-size="12" font-weight="normal" text-anchor="middle" fill="#222" stroke="#222" stroke-width="0.15" textLength="4.5" lengthAdjust="spacingAndGlyphs">2</text>
<text x="187.0" y="631.6" font-size="12" font-weight="normal" text-anchor="middle" fill="#222" stroke="#222" stroke-width="0.15" textLength="4.5" lengthAdjust="spacingAndGlyphs">3</text>
<text x="248.5" y="628.7" font-size="12" font-weight="normal" text-anchor="middle" fill="#222" stroke="#222" stroke-width="0.15" textLength="4.5" lengthAdjust="spacingAndGlyphs">4</text>
<text x="255.9" y="628.7" font-size="12" font-weight="normal" text-anchor="middle" fill="#222" stroke="#222" stroke-width="0.15" textLength="4.5" lengthAdjust="spacingAndGlyphs">5</text>
<text x="260.9" y="628.7" font-size="12" font-weight="normal" text-anchor="middle" fill="#222" stroke="#222" stroke-width="0.15" textLength="4.5" lengthAdjust="spacingAndGlyphs">6</text>
<polyline points="446.5,620.5 450.0,620.4 452.5,620.2 453.3,619.6" fill="none" stroke="#222" stroke-width="1.5" stroke-linejoin="round" stroke-linecap="round"/>
<line x1="453.8" y1="378.2" x2="453.8" y2="620.0" stroke="#8c8c8c" stroke-width="1.6"/>
<rect x="456.2" y="378.2" width="3.4" height="191.1" fill="#8a8a8a"/>
<line x1="456.9" y1="378.2" x2="456.9" y2="501.4" stroke="#111" stroke-width="1.1"/>
<rect x="457.4" y="569.3" width="2.0" height="17" fill="#111"/>
<line x1="467.8" y1="565.7" x2="467.8" y2="606.0" stroke="#8c8c8c" stroke-width="1.3"/>
<line x1="463.2" y1="594.0" x2="463.2" y2="604.0" stroke="#8c8c8c" stroke-width="1.0"/>
<polyline points="458.5,586.3 459.2,588.9 460.5,593.4 461.8,597.9 463.5,602.5 465.4,606.8 466.8,608.6 469.4,612.1 473.9,613.9 478.0,615.7 487.3,617.3 495.0,618.0 502.7,618.7 503.3,610.0 503.7,603.3 504.3,610.0 505.6,617.7 512.0,618.8 520.0,619.2 540.0,619.3 555.0,619.4 563.2,619.4 564.8,617.0 565.7,611.6 566.6,617.0 568.7,619.2 570.3,617.5 570.8,612.0" fill="none" stroke="#222" stroke-width="1.5" stroke-linejoin="round" stroke-linecap="round"/>
<polyline points="570.8,612.0 571.1,555.8 571.6,600.0 572.3,560.0 572.6,484.9 573.0,484.9 573.6,600.0 574.2,612.0" fill="none" stroke="#8a8a8a" stroke-width="1.4" stroke-linejoin="round" stroke-linecap="round"/>
<polyline points="574.2,612.0 574.9,617.5 577.3,615.0 578.4,612.7 579.5,615.0 581.8,619.2 585.9,618.2 595.0,619.0 610.0,618.8 625.0,618.3 637.6,617.9 640.5,616.5 641.5,613.5 642.3,616.5 643.5,617.8 644.5,600.0 645.0,581.4 645.5,581.4 646.0,600.0 647.0,617.5 648.5,617.8 650.0,600.0 651.0,578.5 651.6,578.5 652.2,600.0 653.5,617.8 660.0,618.0 670.0,618.3 680.0,618.3 682.6,617.5 683.2,612.0" fill="none" stroke="#222" stroke-width="1.5" stroke-linejoin="round" stroke-linecap="round"/>
<polyline points="683.2,612.0 683.6,560.0 684.2,444.8 684.7,444.8 685.3,560.0 685.8,612.0" fill="none" stroke="#8a8a8a" stroke-width="1.4" stroke-linejoin="round" stroke-linecap="round"/>
<polyline points="685.8,612.0 686.3,615.0 688.0,617.6 691.0,616.3 693.0,617.8 700.0,618.0 710.0,618.2 720.0,617.8 734.0,617.9" fill="none" stroke="#222" stroke-width="1.5" stroke-linejoin="round" stroke-linecap="round"/>
<polygon points="461.8,594.3 463.5,594.3 465.6,605 465.4,607 463,606.5 461.5,600" fill="#111"/>
<rect x="467.2" y="598" width="1.4" height="10" fill="#222"/>
<line x1="572.8" y1="486.0" x2="572.8" y2="556.5" stroke="#111" stroke-width="1.4"/>
<line x1="684.5" y1="470.0" x2="684.5" y2="493.0" stroke="#111" stroke-width="1.6"/>
<line x1="645.2" y1="583.0" x2="645.2" y2="612.0" stroke="#333" stroke-width="1.1"/>
<line x1="651.3" y1="580.0" x2="651.3" y2="612.0" stroke="#333" stroke-width="1.1"/>
<text transform="translate(566.0,579.7) rotate(-90)" x="0" y="0" font-size="12.5" font-weight="bold" text-anchor="middle" fill="#111" stroke="#111" stroke-width="0.3" letter-spacing="1.2" textLength="53.1" lengthAdjust="spacingAndGlyphs">Rhamnose</text>
<text transform="translate(575.8,454.0) rotate(-90)" x="0" y="0" font-size="12.5" font-weight="bold" text-anchor="middle" fill="#111" stroke="#111" stroke-width="0.3" letter-spacing="1.2" textLength="52.2" lengthAdjust="spacingAndGlyphs">Arabinose</text>
<text transform="translate(582.5,588.2) rotate(-90)" x="0" y="0" font-size="12.5" font-weight="bold" text-anchor="middle" fill="#111" stroke="#111" stroke-width="0.3" letter-spacing="1.2" textLength="29.9" lengthAdjust="spacingAndGlyphs">Xylan</text>
<text transform="translate(640.2,587.9) rotate(-90)" x="0" y="0" font-size="12.5" font-weight="bold" text-anchor="middle" fill="#111" stroke="#111" stroke-width="0.3" letter-spacing="1.2" textLength="46.7" lengthAdjust="spacingAndGlyphs">Mannose</text>
<text transform="translate(648.1,551.1) rotate(-90)" x="0" y="0" font-size="12.5" font-weight="bold" text-anchor="middle" fill="#111" stroke="#111" stroke-width="0.3" letter-spacing="1.2" textLength="43.9" lengthAdjust="spacingAndGlyphs">Glucose</text>
<text transform="translate(658.2,548.2) rotate(-90)" x="0" y="0" font-size="12.5" font-weight="bold" text-anchor="middle" fill="#111" stroke="#111" stroke-width="0.3" letter-spacing="1.2" textLength="49.6" lengthAdjust="spacingAndGlyphs">Galactose</text>
<text transform="translate(696.0,446.6) rotate(-90)" x="0" y="0" font-size="12.5" font-weight="bold" text-anchor="middle" fill="#111" stroke="#111" stroke-width="0.3" letter-spacing="1.2" textLength="90.8" lengthAdjust="spacingAndGlyphs">Internal standard</text>
<text x="566.0" y="633.6" font-size="12" font-weight="normal" text-anchor="middle" fill="#222" stroke="#222" stroke-width="0.15" textLength="4.5" lengthAdjust="spacingAndGlyphs">1</text>
<text x="572.5" y="633.6" font-size="12" font-weight="normal" text-anchor="middle" fill="#222" stroke="#222" stroke-width="0.15" textLength="4.5" lengthAdjust="spacingAndGlyphs">2</text>
<text x="580.8" y="633.6" font-size="12" font-weight="normal" text-anchor="middle" fill="#222" stroke="#222" stroke-width="0.15" textLength="4.5" lengthAdjust="spacingAndGlyphs">3</text>
<text x="641.6" y="633.6" font-size="12" font-weight="normal" text-anchor="middle" fill="#222" stroke="#222" stroke-width="0.15" textLength="4.5" lengthAdjust="spacingAndGlyphs">4</text>
<text x="646.9" y="633.6" font-size="12" font-weight="normal" text-anchor="middle" fill="#222" stroke="#222" stroke-width="0.15" textLength="4.5" lengthAdjust="spacingAndGlyphs">5</text>
<text x="652.4" y="633.6" font-size="12" font-weight="normal" text-anchor="middle" fill="#222" stroke="#222" stroke-width="0.15" textLength="4.5" lengthAdjust="spacingAndGlyphs">6</text>
</svg>
</body></html>
